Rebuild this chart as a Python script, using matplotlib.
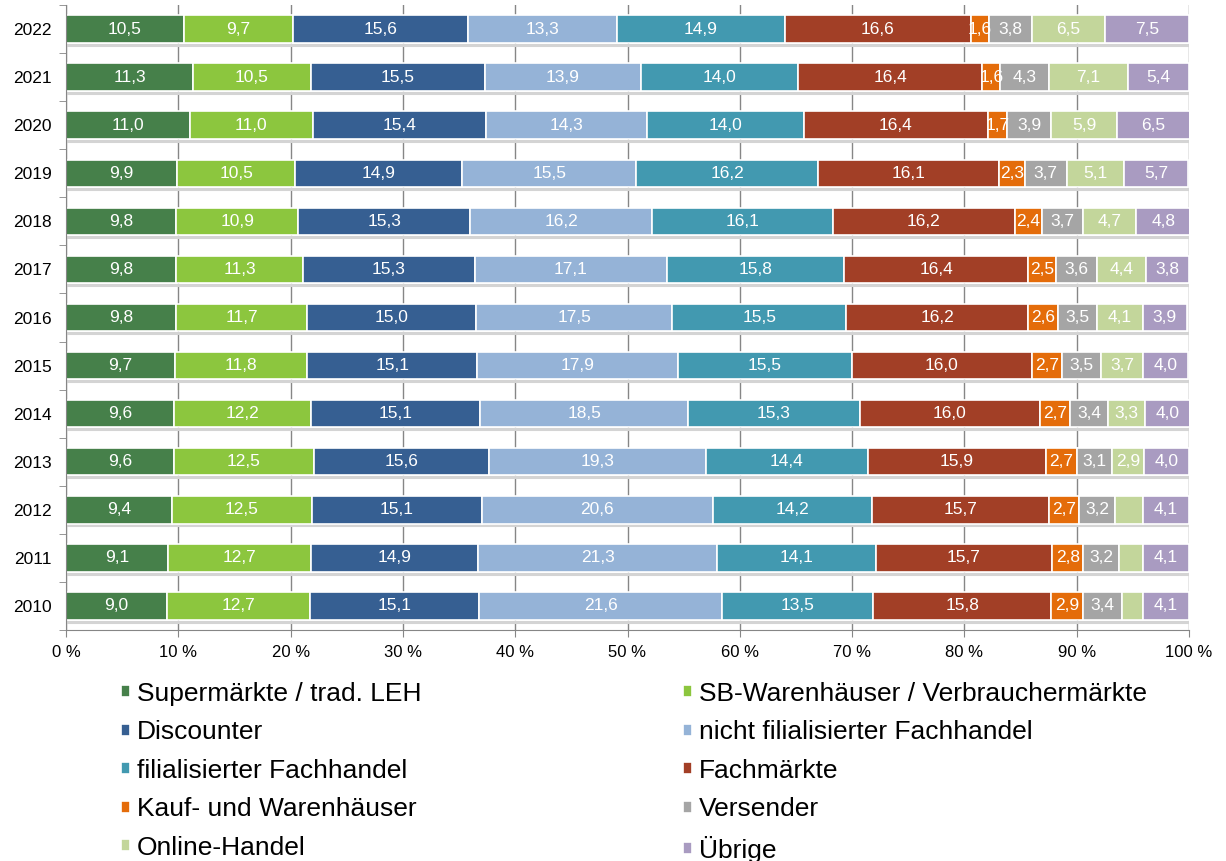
import matplotlib.pyplot as plt
import numpy as np

plt.rcParams['font.family'] = ['Liberation Sans', 'DejaVu Sans']

years = ["2010", "2011", "2012", "2013", "2014", "2015", "2016",
         "2017", "2018", "2019", "2020", "2021", "2022"]

supermaerkte = [9.0, 9.1, 9.4, 9.6, 9.6, 9.7, 9.8, 9.8, 9.8, 9.9, 11.0, 11.3, 10.5]
sb_warenhaeuser = [12.7, 12.7, 12.5, 12.5, 12.2, 11.8, 11.7, 11.3, 10.9, 10.5, 11.0, 10.5, 9.7]
discounter = [15.1, 14.9, 15.1, 15.6, 15.1, 15.1, 15.0, 15.3, 15.3, 14.9, 15.4, 15.5, 15.6]
nicht_filial = [21.6, 21.3, 20.6, 19.3, 18.5, 17.9, 17.5, 17.1, 16.2, 15.5, 14.3, 13.9, 13.3]
filial = [13.5, 14.1, 14.2, 14.4, 15.3, 15.5, 15.5, 15.8, 16.1, 16.2, 14.0, 14.0, 14.9]
fachmaerkte = [15.8, 15.7, 15.7, 15.9, 16.0, 16.0, 16.2, 16.4, 16.2, 16.1, 16.4, 16.4, 16.6]
kaufhaeuser = [2.9, 2.8, 2.7, 2.7, 2.7, 2.7, 2.6, 2.5, 2.4, 2.3, 1.7, 1.6, 1.6]
versender = [3.4, 3.2, 3.2, 3.1, 3.4, 3.5, 3.5, 3.6, 3.7, 3.7, 3.9, 4.3, 3.8]
online = [1.9, 2.1, 2.5, 2.9, 3.3, 3.7, 4.1, 4.4, 4.7, 5.1, 5.9, 7.1, 6.5]
uebrige = [4.1, 4.1, 4.1, 4.0, 4.0, 4.0, 3.9, 3.8, 4.8, 5.7, 6.5, 5.4, 7.5]

names = ["Supermärkte / trad. LEH", "SB-Warenhäuser / Verbrauchermärkte",
         "Discounter", "nicht filialisierter Fachhandel",
         "filialisierter Fachhandel", "Fachmärkte",
         "Kauf- und Warenhäuser", "Versender",
         "Online-Handel", "Übrige"]
series = [supermaerkte, sb_warenhaeuser, discounter, nicht_filial, filial,
          fachmaerkte, kaufhaeuser, versender, online, uebrige]
colors = ["#46804a", "#8cc63e", "#365f92", "#95b3d7", "#4299b0",
          "#a23f26", "#e46c0a", "#a5a5a5", "#c3d69b", "#a99bc1"]

# online shares too thin to carry a label
unlabeled_online = ["2010", "2011", "2012"]

fig = plt.figure(figsize=(12.26, 8.61), dpi=100)
ax = fig.add_axes([66 / 1226, 1 - 630 / 861, (1189 - 66) / 1226, 625 / 861])

y = np.arange(len(years))
h = 0.57
left = np.zeros(len(years))

# soft shadow line under each bar
for yi in y:
    ax.plot([0, 100], [yi - h / 2 - 0.04] * 2, color="#d4d4d4", lw=2.2,
            zorder=1, solid_capstyle="butt")

handles = []
for name, vals, col in zip(names, series, colors):
    vals = np.array(vals)
    b = ax.barh(y, vals, left=left, height=h, color=col, edgecolor="white",
                linewidth=1.2, label=name, zorder=2)
    handles.append(b)
    for yi, v, l in zip(y, vals, left):
        if name == "Online-Handel" and years[yi] in unlabeled_online:
            continue
        ax.text(l + v / 2, yi, f"{v:.1f}".replace(".", ","), ha="center",
                va="center", color="white", fontsize=12.5, zorder=3)
    left = left + vals

ax.set_xlim(0, 100)
ax.set_ylim(-0.5, len(years) - 0.5)
ax.set_xticks(np.arange(0, 101, 10))
ax.set_xticklabels([f"{t} %" for t in range(0, 101, 10)], fontsize=12)
ax.set_yticks(y)
ax.set_yticklabels(years, fontsize=12.5)
ax.set_yticks(np.arange(-0.5, len(years), 1), minor=True)
ax.tick_params(axis="y", which="major", length=0, pad=10)
ax.tick_params(axis="y", which="minor", length=5, direction="out", color="#868686")
ax.tick_params(axis="x", length=5, direction="out", color="#868686", pad=6)

ax.set_axisbelow(True)
ax.grid(axis="x", color="#868686", lw=1, zorder=0)
for s in ["top", "right"]:
    ax.spines[s].set_visible(False)
for s in ["left", "bottom"]:
    ax.spines[s].set_color("#868686")

order = [0, 2, 4, 6, 8, 1, 3, 5, 7, 9]
fig.legend([handles[i] for i in order], [names[i] for i in order],
           ncol=2, loc="upper left", bbox_to_anchor=(110.5 / 1226, 1 - 671 / 861),
           frameon=False, fontsize=19, handlelength=0.33, handleheight=0.33,
           handletextpad=0.28, labelspacing=0.55, columnspacing=9.9,
           borderaxespad=0)

fig.savefig("out.png", dpi=100)
